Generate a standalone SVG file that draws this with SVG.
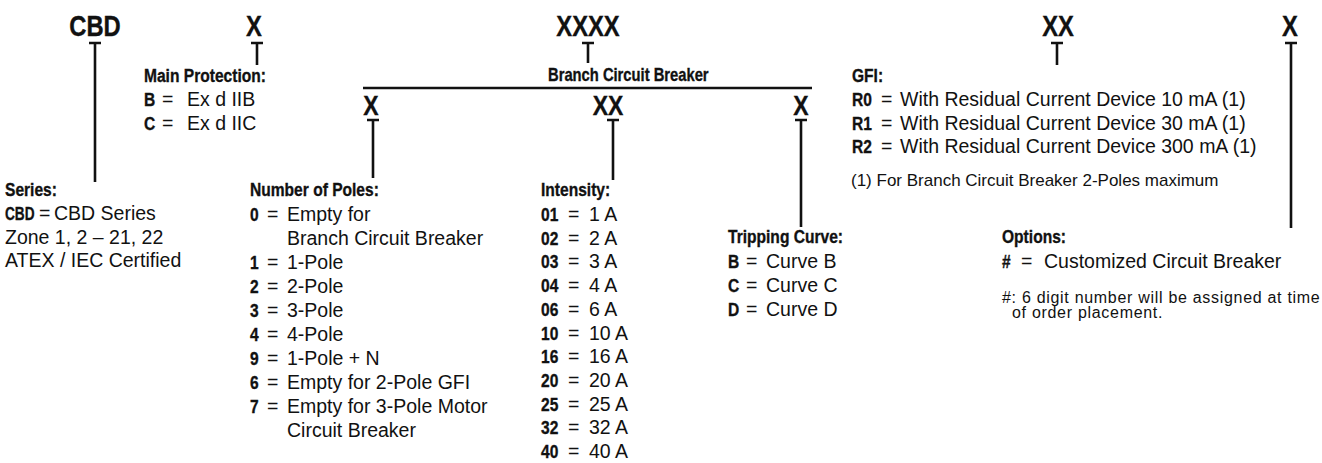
<svg xmlns="http://www.w3.org/2000/svg" width="1322" height="463" viewBox="0 0 1322 463">
<style>
.b{font-family:"Liberation Sans",Arial,sans-serif;font-weight:bold;fill:#111;stroke:#111;stroke-width:0.35}
.big{font-size:29px}
.mid{font-size:28px}
.h{font-size:19px}
.lbl{font-size:18px}
.t{font-family:"Liberation Sans",Arial,sans-serif;font-size:19.5px;fill:#111}
.n{font-family:"Liberation Sans",Arial,sans-serif;font-size:17px;fill:#111}
.n2{font-family:"Liberation Sans",Arial,sans-serif;font-size:16px;letter-spacing:0.7px;fill:#111}
.c{fill:none;stroke:#111;stroke-width:2.6}
</style>
<rect width="1322" height="463" fill="#fff"/>
<g id="connectors">
<path class="c" d="M89,43H101M95,43V182"/>
<path class="c" d="M251,43H263M257,43V65"/>
<path class="c" d="M582,43H594M588,43V63"/>
<path class="c" d="M1051,43H1063M1057,43V65"/>
<path class="c" d="M1285,43H1297M1291,43V228"/>
<path class="c" d="M363,88H812" stroke-width="3"/>
<path class="c" d="M367,120H379M373,120V178"/>
<path class="c" d="M607,120H619M613,120V180"/>
<path class="c" d="M795,120H807M801,120V227"/>
</g>
<g id="code-cbd"><text class="b big" text-anchor="middle" transform="translate(95,36) scale(.82,1)">CBD</text></g>
<g id="code-main"><text class="b big" text-anchor="middle" transform="translate(254,36) scale(.82,1)">X</text></g>
<g id="code-branch"><text class="b big" text-anchor="middle" transform="translate(588,36) scale(.82,1)">XXXX</text>
<text class="b lbl" transform="translate(548,81) scale(.82,1)">Branch Circuit Breaker</text></g>
<g id="code-gfi"><text class="b big" text-anchor="middle" transform="translate(1058,36) scale(.82,1)">XX</text></g>
<g id="code-options"><text class="b big" text-anchor="middle" transform="translate(1290,36) scale(.82,1)">X</text></g>
<g id="code-poles"><text class="b mid" text-anchor="middle" transform="translate(371,115) scale(.82,1)">X</text></g>
<g id="code-intensity"><text class="b mid" text-anchor="middle" transform="translate(608,115) scale(.82,1)">XX</text></g>
<g id="code-tripping"><text class="b mid" text-anchor="middle" transform="translate(801,115) scale(.82,1)">X</text></g>

<g id="series">
<text class="b h" transform="translate(5,196) scale(.82,1)">Series:</text>
<text class="b h" transform="translate(5,220) scale(.72,1)">CBD</text><text class="t" x="39" y="220">=</text><text class="t" x="54" y="220">CBD Series</text>
<text class="t" x="5" y="244">Zone 1, 2 – 21, 22</text>
<text class="t" x="5" y="267">ATEX / IEC Certified</text>
</g>

<g id="main-protection">
<text class="b h" transform="translate(144,82) scale(.82,1)">Main Protection:</text>
<text class="b h" transform="translate(144,106) scale(.82,1)">B</text><text class="t" x="162" y="106">=</text><text class="t" x="187" y="106">Ex d IIB</text>
<text class="b h" transform="translate(144,130) scale(.82,1)">C</text><text class="t" x="162" y="130">=</text><text class="t" x="187" y="130">Ex d IIC</text>
</g>

<g id="number-of-poles">
<text class="b h" transform="translate(250,196) scale(.82,1)">Number of Poles:</text>
<text class="b h" transform="translate(250,221) scale(.82,1)">0</text><text class="t" x="267" y="221">=</text><text class="t" x="287" y="221">Empty for</text>
<text class="t" x="287" y="245">Branch Circuit Breaker</text>
<text class="b h" transform="translate(250,269) scale(.82,1)">1</text><text class="t" x="267" y="269">=</text><text class="t" x="287" y="269">1-Pole</text>
<text class="b h" transform="translate(250,293) scale(.82,1)">2</text><text class="t" x="267" y="293">=</text><text class="t" x="287" y="293">2-Pole</text>
<text class="b h" transform="translate(250,317) scale(.82,1)">3</text><text class="t" x="267" y="317">=</text><text class="t" x="287" y="317">3-Pole</text>
<text class="b h" transform="translate(250,341) scale(.82,1)">4</text><text class="t" x="267" y="341">=</text><text class="t" x="287" y="341">4-Pole</text>
<text class="b h" transform="translate(250,365) scale(.82,1)">9</text><text class="t" x="267" y="365">=</text><text class="t" x="287" y="365">1-Pole + N</text>
<text class="b h" transform="translate(250,389) scale(.82,1)">6</text><text class="t" x="267" y="389">=</text><text class="t" x="287" y="389">Empty for 2-Pole GFI</text>
<text class="b h" transform="translate(250,413) scale(.82,1)">7</text><text class="t" x="267" y="413">=</text><text class="t" x="287" y="413">Empty for 3-Pole Motor</text>
<text class="t" x="287" y="437">Circuit Breaker</text>
</g>

<g id="intensity">
<text class="b h" transform="translate(541,196) scale(.82,1)">Intensity:</text>
<text class="b h" transform="translate(541,221) scale(.82,1)">01</text><text class="t" x="568" y="221">=</text><text class="t" x="589" y="221">1 A</text>
<text class="b h" transform="translate(541,244.7) scale(.82,1)">02</text><text class="t" x="568" y="244.7">=</text><text class="t" x="589" y="244.7">2 A</text>
<text class="b h" transform="translate(541,268.4) scale(.82,1)">03</text><text class="t" x="568" y="268.4">=</text><text class="t" x="589" y="268.4">3 A</text>
<text class="b h" transform="translate(541,292.1) scale(.82,1)">04</text><text class="t" x="568" y="292.1">=</text><text class="t" x="589" y="292.1">4 A</text>
<text class="b h" transform="translate(541,315.8) scale(.82,1)">06</text><text class="t" x="568" y="315.8">=</text><text class="t" x="589" y="315.8">6 A</text>
<text class="b h" transform="translate(541,339.5) scale(.82,1)">10</text><text class="t" x="568" y="339.5">=</text><text class="t" x="589" y="339.5">10 A</text>
<text class="b h" transform="translate(541,363.2) scale(.82,1)">16</text><text class="t" x="568" y="363.2">=</text><text class="t" x="589" y="363.2">16 A</text>
<text class="b h" transform="translate(541,386.9) scale(.82,1)">20</text><text class="t" x="568" y="386.9">=</text><text class="t" x="589" y="386.9">20 A</text>
<text class="b h" transform="translate(541,410.6) scale(.82,1)">25</text><text class="t" x="568" y="410.6">=</text><text class="t" x="589" y="410.6">25 A</text>
<text class="b h" transform="translate(541,434.3) scale(.82,1)">32</text><text class="t" x="568" y="434.3">=</text><text class="t" x="589" y="434.3">32 A</text>
<text class="b h" transform="translate(541,458) scale(.82,1)">40</text><text class="t" x="568" y="458">=</text><text class="t" x="589" y="458">40 A</text>
</g>

<g id="tripping-curve">
<text class="b h" transform="translate(728,243) scale(.82,1)">Tripping Curve:</text>
<text class="b h" transform="translate(728,268) scale(.82,1)">B</text><text class="t" x="746" y="268">=</text><text class="t" x="766" y="268">Curve B</text>
<text class="b h" transform="translate(728,292) scale(.82,1)">C</text><text class="t" x="746" y="292">=</text><text class="t" x="766" y="292">Curve C</text>
<text class="b h" transform="translate(728,316) scale(.82,1)">D</text><text class="t" x="746" y="316">=</text><text class="t" x="766" y="316">Curve D</text>
</g>

<g id="gfi">
<text class="b h" transform="translate(852,82) scale(.82,1)">GFI:</text>
<text class="b h" transform="translate(852,106) scale(.82,1)">R0</text><text class="t" x="881" y="106">=</text><text class="t" x="900" y="106">With Residual Current Device 10 mA (1)</text>
<text class="b h" transform="translate(852,130) scale(.82,1)">R1</text><text class="t" x="881" y="130">=</text><text class="t" x="900" y="130">With Residual Current Device 30 mA (1)</text>
<text class="b h" transform="translate(852,153) scale(.82,1)">R2</text><text class="t" x="881" y="153">=</text><text class="t" x="900" y="153">With Residual Current Device 300 mA (1)</text>
<text class="n" x="851" y="186">(1) For Branch Circuit Breaker 2-Poles maximum</text>
</g>

<g id="options">
<text class="b h" transform="translate(1002,243) scale(.82,1)">Options:</text>
<text class="b h" transform="translate(1002,268) scale(.82,1)">#</text><text class="t" x="1021" y="268">=</text><text class="t" x="1044" y="268">Customized Circuit Breaker</text>
<text class="n2" x="1002" y="303">#: 6 digit number will be assigned at time</text>
<text class="n2" x="1012" y="318">of order placement.</text>
</g>
</svg>
